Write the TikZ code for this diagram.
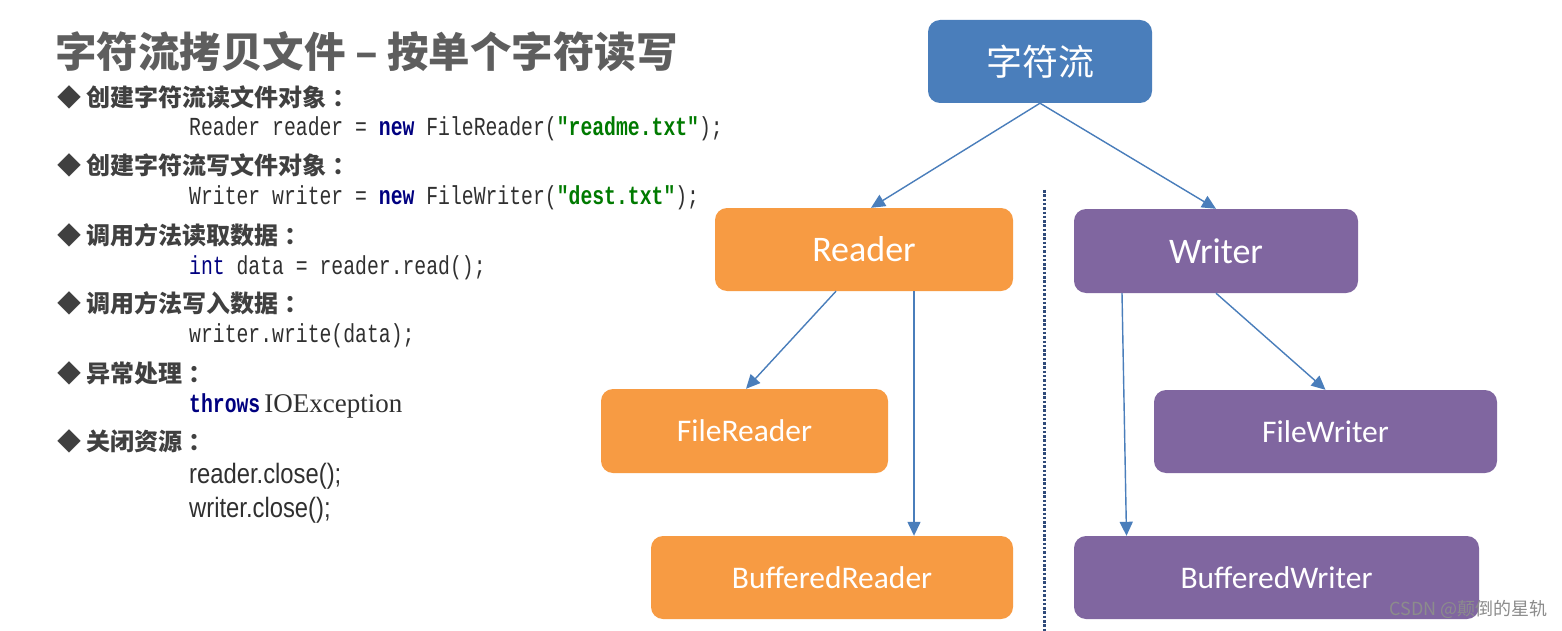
\documentclass[tikz,border=0pt]{standalone}
\usepackage{fontspec}
\usetikzlibrary{arrows.meta}

\setmainfont{Liberation Serif}
\newfontfamily\cjkfont{Noto Sans CJK SC}
\newfontfamily\codefont[FakeStretch=0.76]{Liberation Mono}
\newfontfamily\boxfont{Carlito}
\newfontfamily\closefont[FakeStretch=0.85]{Liberation Sans}

\definecolor{streamblue}{HTML}{4A7EBB}
\definecolor{readerorange}{HTML}{F79B43}
\definecolor{writerpurple}{HTML}{8066A0}
\definecolor{titlegray}{HTML}{5E5E5E}
\definecolor{bulletgray}{HTML}{404040}
\definecolor{kwnavy}{HTML}{000080}
\definecolor{strgreen}{HTML}{007A00}
\definecolor{codegray}{HTML}{303030}
\definecolor{sepnavy}{HTML}{2F4A7A}

\newcommand{\kw}[1]{\textcolor{kwnavy}{\bfseries #1}}
\newcommand{\codestr}[1]{\textcolor{strgreen}{\bfseries #1}}
\newcommand{\colonsp}{\hspace{6pt}：}

\tikzset{
  titletext/.style={anchor=west, inner sep=0, text=titlegray,
    font=\cjkfont\bfseries\fontsize{41.5}{48}\selectfont},
  bullettext/.style={anchor=west, inner sep=0, text=bulletgray,
    font=\cjkfont\bfseries\fontsize{24}{28}\selectfont},
  codetext/.style={anchor=west, inner sep=0, text=codegray,
    font=\codefont\fontsize{26}{30}\selectfont},
  closetext/.style={anchor=west, inner sep=0, text=codegray,
    font=\closefont\fontsize{28}{32}\selectfont},
  classbox/.style={rectangle, rounded corners=12, text=white,
    font=\boxfont\fontsize{31.5}{36}\selectfont},
  readerbox/.style={classbox, fill=readerorange},
  writerbox/.style={classbox, fill=writerpurple},
  arr/.style={draw=streamblue, line width=1.4pt,
    -{Triangle[length=14pt, width=13pt]}, fill=streamblue},
}

\begin{document}
\begin{tikzpicture}[x=1pt, y=-1pt]
\useasboundingbox[fill=white] (0,0) rectangle (1562,631);

% left column
\node[titletext] (title) at (55,52) {字符流拷贝文件 – 按单个字符读写};

\node[bullettext] (b1) at (57,97)  {◆ 创建字符流读文件对象\colonsp};
\node[codetext]   (c1) at (189,129) {Reader reader = \kw{new} FileReader(\codestr{"readme.txt"});};
\node[bullettext] (b2) at (57,165) {◆ 创建字符流写文件对象\colonsp};
\node[codetext]   (c2) at (189,198) {Writer writer = \kw{new} FileWriter(\codestr{"dest.txt"});};
\node[bullettext] (b3) at (57,235) {◆ 调用方法读取数据\colonsp};
\node[codetext]   (c3) at (189,268) {\textcolor{kwnavy}{int} data = reader.read();};
\node[bullettext] (b4) at (57,303) {◆ 调用方法写入数据\colonsp};
\node[codetext]   (c4) at (189,336) {writer.write(data);};
\node[bullettext] (b5) at (57,373) {◆ 异常处理\colonsp};
\node[codetext]   (c5) at (189,406) {\kw{throws}\hspace{4pt}{\rmfamily\fontsize{27}{32}\selectfont IOException}};
\node[bullettext] (b6) at (57,441) {◆ 关闭资源\colonsp};
\node[closetext]  (c6) at (189,476) {reader.close();};
\node[closetext]  (c7) at (189,510) {writer.close();};

% class tree
\node[classbox, fill=streamblue, minimum width=224, minimum height=83,
  font=\cjkfont\fontsize{36}{42}\selectfont] (stream) at (1040,61.5) {字符流};

\node[readerbox, minimum width=298, minimum height=83,
  font=\boxfont\fontsize{36}{40}\selectfont] (reader) at (864,249.5) {Reader};
\node[writerbox, minimum width=284, minimum height=84,
  font=\boxfont\fontsize{36}{40}\selectfont] (writer) at (1216,251) {Writer};

\node[readerbox, minimum width=287, minimum height=84] (filereader) at (744.5,431) {FileReader};
\node[readerbox, minimum width=362, minimum height=83] (bufreader) at (832,577.5) {BufferedReader};
\node[writerbox, minimum width=343, minimum height=83] (filewriter) at (1325.5,431.5) {FileWriter};
\node[writerbox, minimum width=405, minimum height=83] (bufwriter) at (1276.5,577.5) {BufferedWriter};

\draw[arr] (stream.south) -- ([xshift=7pt]reader.north);
\draw[arr] (stream.south) -- (writer.north);
\draw[arr] ([xshift=-28pt]reader.south) -- ([xshift=1.5pt]filereader.north);
\draw[arr] ([xshift=50pt]reader.south) -- ([xshift=82pt]bufreader.north);
\draw[arr] ([xshift=-94pt]writer.south) -- ([xshift=-150pt]bufwriter.north);
\draw[arr] (writer.south) -- (filewriter.north);

% separator
\coordinate (septop) at (1044,190);
\coordinate (sepbot) at (1044,631);
\draw[sepnavy, line width=3pt, dash pattern=on 2.5pt off 1.8pt] (septop) -- (sepbot);

\node[anchor=east, inner sep=0, text=black!45, font=\cjkfont\fontsize{18}{22}\selectfont]
  (mark) at (1548,609) {CSDN @颠倒的星轨};
\end{tikzpicture}
\end{document}
